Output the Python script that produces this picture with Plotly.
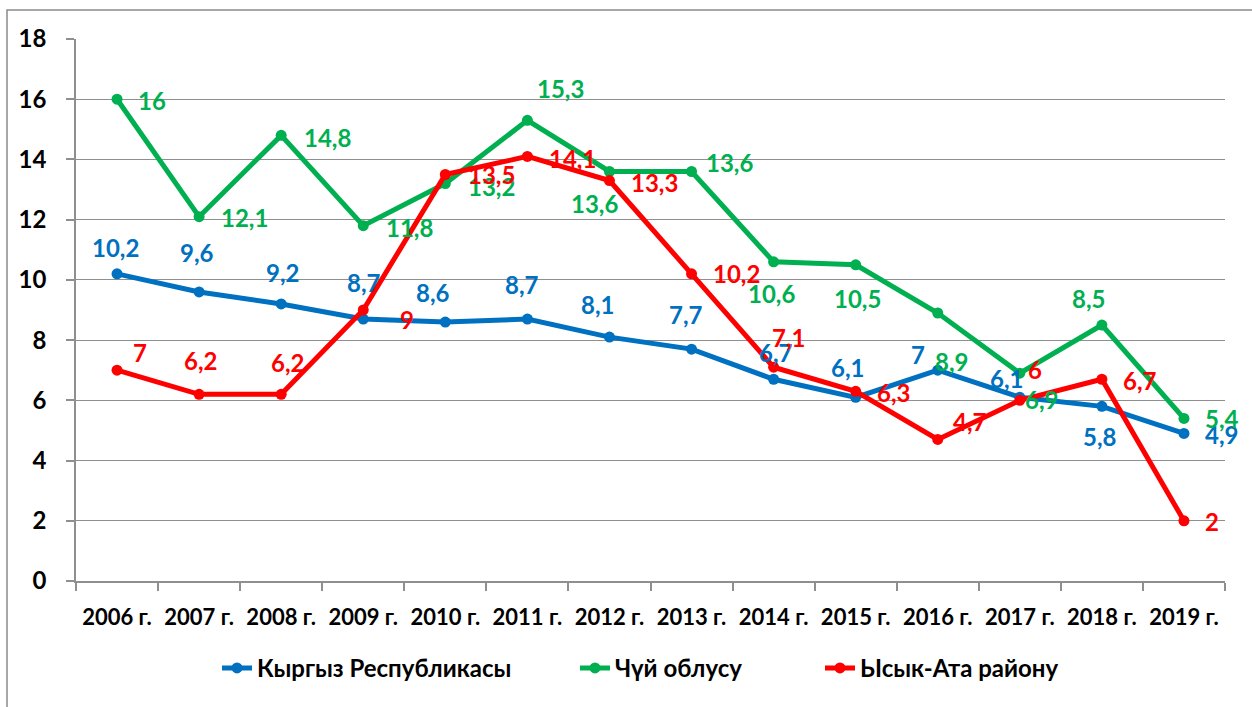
import plotly.graph_objects as go

years = ["2006 г.", "2007 г.", "2008 г.", "2009 г.", "2010 г.", "2011 г.", "2012 г.",
         "2013 г.", "2014 г.", "2015 г.", "2016 г.", "2017 г.", "2018 г.", "2019 г."]
kyrgyz = [10.2, 9.6, 9.2, 8.7, 8.6, 8.7, 8.1, 7.7, 6.7, 6.1, 7, 6.1, 5.8, 4.9]
chui = [16, 12.1, 14.8, 11.8, 13.2, 15.3, 13.6, 13.6, 10.6, 10.5, 8.9, 6.9, 8.5, 5.4]
ysyk_ata = [7, 6.2, 6.2, 9, 13.5, 14.1, 13.3, 10.2, 7.1, 6.3, 4.7, 6, 6.7, 2]
names = ["Кыргыз Республикасы", "Чүй облусу", "Ысык-Ата району"]
y_ticks = [0, 2, 4, 6, 8, 10, 12, 14, 16, 18]

# label offsets (screen px: dx right, dy down) – styling only
off_blue = [(-2, -26), (-2, -39), (1, -31), (1, -37), (-12, -30), (-5, -35), (-12, -33),
            (-6, -35), (2, -27), (-8, -30), (-20, -16), (-13, -19), (-2, 30), (38, 1)]
off_green = [(35, 1), (45, 1), (46, 2), (46, 2), (46, 3), (33, -32), (-15, 32),
             (38, -9), (-2, 32), (2, 34), (14, 48), (22, 26), (-13, -27), (38, 0)]
off_red = [(23, -18), (1, -34), (6, -32), (44, 9), (46, 0), (45, 2), (45, 2),
           (45, 0), (15, -30), (38, 1), (32, -18), (15, -31), (38, 1), (28, 1)]

colors = ["#0070C0", "#00B050", "#FF0000"]
FONT = "Lato, 'Open Sans', sans-serif"

# plot area in px
L, R, T, B = 76, 1225, 39, 580.7
W, H = R - L, B - T


def px_x(p):
    return (p - L) / W


def px_y(p):
    return (B - p) / H


legend_ids = ["legend", "legend2", "legend3"]
legend_x = [227, 585, 830]

fig = go.Figure()
series = [kyrgyz, chui, ysyk_ata]
offsets = [off_blue, off_green, off_red]
for vals, name, col, lid in zip(series, names, colors, legend_ids):
    fig.add_trace(go.Scatter(
        x=years, y=vals, name=name, mode="lines+markers",
        line=dict(color=col, width=5),
        marker=dict(color=col, size=11),
        legend=lid,
    ))


def fmt(v):
    return f"{v:g}".replace(".", ",")


annotations = []
for vals, offs, col in zip(series, offsets, colors):
    for yr, v, (dx, dy) in zip(years, vals, offs):
        annotations.append(dict(
            x=yr, y=v, xref="x", yref="y", text=fmt(v), showarrow=False,
            xshift=dx, yshift=-dy, xanchor="center", yanchor="middle",
            font=dict(family=FONT, size=24, color=col, weight="bold"),
        ))

legend_common = dict(orientation="h", xanchor="left", y=px_y(668), yanchor="middle",
                     font=dict(family=FONT, size=24, color="black", weight="bold"),
                     itemwidth=30, bgcolor="rgba(0,0,0,0)", borderwidth=0)

layout_legends = {}
for lid, lx in zip(legend_ids, legend_x):
    layout_legends[lid] = dict(x=px_x(lx - 10), **legend_common)

fig.update_layout(
    width=1252, height=707,
    margin=dict(l=L, r=1252 - R, t=T, b=707 - B, pad=0),
    paper_bgcolor="white", plot_bgcolor="white",
    font=dict(family=FONT, size=20, color="black", weight="bold"),
    annotations=annotations,
    showlegend=True,
    shapes=[dict(type="rect", xref="paper", yref="paper",
                 x0=px_x(7), x1=px_x(1254), y0=px_y(709), y1=px_y(10),
                 line=dict(color="#8a8a8a", width=1.5), fillcolor="rgba(0,0,0,0)", layer="below")],
    **layout_legends,
)

fig.update_xaxes(
    type="category", range=[-0.5, 13.5], tickson="boundaries",
    ticks="outside", ticklen=8, tickcolor="#8f8f8f", tickwidth=1.5,
    showline=True, linecolor="#8f8f8f", linewidth=1.5, showgrid=False, zeroline=False,
    tickfont=dict(family=FONT, size=22, color="black", weight="bold"),
    ticklabelstandoff=16,
)
fig.update_yaxes(
    range=[0, 18], tickvals=y_ticks, ticks="outside", ticklen=8, tickcolor="#8f8f8f", tickwidth=1.5,
    showline=True, linecolor="#8f8f8f", linewidth=1.5,
    showgrid=True, gridcolor="#8f8f8f", gridwidth=1.2, zeroline=False,
    tickfont=dict(family=FONT, size=24, color="black", weight="bold"),
    ticklabelstandoff=15,
)

fig.write_html("out.html", post_script="document.body.style.margin='0';",
               config={"displayModeBar": False})
